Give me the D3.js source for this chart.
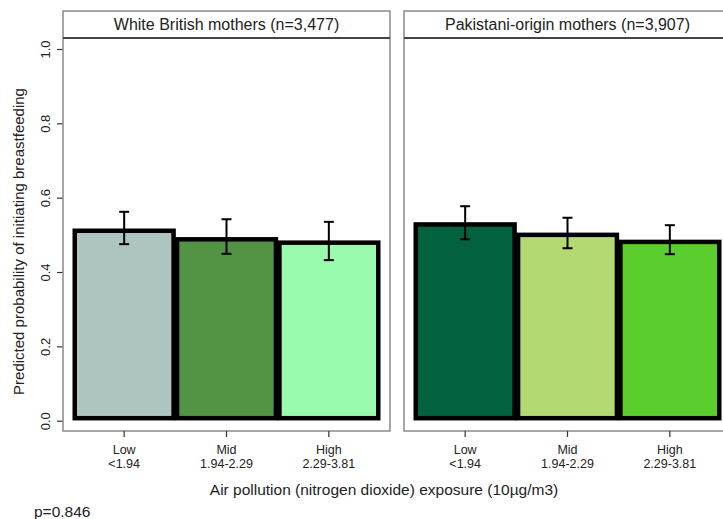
<!DOCTYPE html>
<html>
<head>
<meta charset="utf-8">
<script src="https://cdn.jsdelivr.net/npm/d3@7"></script>
<style>
  html, body { margin: 0; padding: 0; background: #fff; }
  svg { display: block; font-family: "Liberation Sans", Arial, sans-serif; }
</style>
</head>
<body>
<svg id="chart" width="723" height="519"></svg>
<script>
// Exposure groups (NO2, 10µg/m3)
const categories = ["Low", "Mid", "High"];
const ranges = ["<1.94", "1.94-2.29", "2.29-3.81"];

// Panels
const panelTitles = ["White British mothers (n=3,477)", "Pakistani-origin mothers (n=3,907)"];

// Predicted probabilities with 95% CI
const whiteBritish = [0.511, 0.488, 0.479];
const whiteBritishLo = [0.475, 0.449, 0.432];
const whiteBritishHi = [0.562, 0.542, 0.535];

const pakistani = [0.528, 0.500, 0.481];
const pakistaniLo = [0.488, 0.464, 0.448];
const pakistaniHi = [0.577, 0.546, 0.526];

const yTicks = [0, 0.2, 0.4, 0.6, 0.8, 1.0];

const barColors = [
  ["#adc4c0", "#529444", "#9afaad"],
  ["#02613f", "#b3da72", "#5bcd2c"]
];

const panels = [
  { title: panelTitles[0], est: whiteBritish, lo: whiteBritishLo, hi: whiteBritishHi, colors: barColors[0] },
  { title: panelTitles[1], est: pakistani, lo: pakistaniLo, hi: pakistaniHi, colors: barColors[1] }
];

const svg = d3.select("#chart");

// Layout
const panelW = 327, panelTop = 11, stripH = 27, plotBottom = 431;
const panelLefts = [63, 404];

const y = d3.scaleLinear().domain([0, 1]).range([420.7, 49]);

// Shared y axis on the left panel
const yAxis = d3.axisLeft(y).tickValues(yTicks).tickFormat(d3.format(".1f")).tickSize(6).tickPadding(4);
const yG = svg.append("g").attr("transform", `translate(${panelLefts[0]},0)`).call(yAxis);
yG.select(".domain").remove();
yG.selectAll(".tick line").attr("stroke", "#333").attr("stroke-width", 1.2);
yG.selectAll(".tick text")
  .attr("font-size", 13).attr("fill", "#222")
  .attr("x", 0).attr("y", 0).attr("dy", 0)
  .attr("text-anchor", "middle")
  .attr("transform", "translate(-13,0) rotate(-90)");

panels.forEach((p, i) => {
  const left = panelLefts[i];
  const g = svg.append("g").attr("transform", `translate(${left},0)`);

  const x = d3.scaleBand().domain(categories).range([10, 317]).paddingInner(0).paddingOuter(0);

  // Panel frame
  g.append("rect")
    .attr("x", 0).attr("y", panelTop)
    .attr("width", panelW).attr("height", plotBottom - panelTop)
    .attr("fill", "none").attr("stroke", "#8a8a8a").attr("stroke-width", 1.5);

  // Strip divider and title
  g.append("line")
    .attr("x1", 0).attr("x2", panelW)
    .attr("y1", panelTop + stripH).attr("y2", panelTop + stripH)
    .attr("stroke", "#444").attr("stroke-width", 2);
  g.append("text")
    .attr("x", panelW / 2).attr("y", panelTop + stripH / 2 + 5.5)
    .attr("text-anchor", "middle").attr("font-size", 16).attr("fill", "#222")
    .text(p.title);

  // Bars
  const bw = 4.5;
  g.selectAll("rect.bar").data(categories).join("rect")
    .attr("class", "bar")
    .attr("x", d => x(d) + bw / 2 - 0.5)
    .attr("width", x.bandwidth() - bw + 1)
    .attr("y", (d, j) => y(p.est[j]))
    .attr("height", (d, j) => y(0) - 2.5 - y(p.est[j]))
    .attr("fill", (d, j) => p.colors[j])
    .attr("stroke", "#000").attr("stroke-width", bw);

  // Confidence intervals
  const cap = 5;
  categories.forEach((c, j) => {
    const cx = x(c) + x.bandwidth() / 2;
    const eg = g.append("g").attr("stroke", "#000").attr("stroke-width", 2);
    eg.append("line").attr("x1", cx).attr("x2", cx).attr("y1", y(p.lo[j])).attr("y2", y(p.hi[j]));
    eg.append("line").attr("x1", cx - cap).attr("x2", cx + cap).attr("y1", y(p.lo[j])).attr("y2", y(p.lo[j]));
    eg.append("line").attr("x1", cx - cap).attr("x2", cx + cap).attr("y1", y(p.hi[j])).attr("y2", y(p.hi[j]));
  });

  // X axis
  const xAxis = d3.axisBottom(x).tickSize(6).tickFormat("");
  const xG = g.append("g").attr("transform", `translate(0,${plotBottom})`).call(xAxis);
  xG.select(".domain").remove();
  xG.selectAll(".tick line").attr("stroke", "#333").attr("stroke-width", 1.2);
  categories.forEach((c, j) => {
    const cx = x(c) + x.bandwidth() / 2;
    const t = g.append("text")
      .attr("text-anchor", "middle").attr("font-size", 12.5).attr("fill", "#222");
    t.append("tspan").attr("x", cx).attr("y", 453.5).text(c);
    t.append("tspan").attr("x", cx).attr("y", 467.5).text(ranges[j]);
  });
});

// Axis titles
svg.append("text")
  .attr("transform", "translate(24,241.5) rotate(-90)")
  .attr("text-anchor", "middle").attr("font-size", 15).attr("fill", "#222")
  .text("Predicted probability of initiating breastfeeding");

svg.append("text")
  .attr("x", 384).attr("y", 495)
  .attr("text-anchor", "middle").attr("font-size", 15.5).attr("fill", "#222")
  .text("Air pollution (nitrogen dioxide) exposure (10µg/m3)");

svg.append("text")
  .attr("x", 34).attr("y", 517)
  .attr("font-size", 15.5).attr("fill", "#222")
  .text("p=0.846");
</script>
</body>
</html>
